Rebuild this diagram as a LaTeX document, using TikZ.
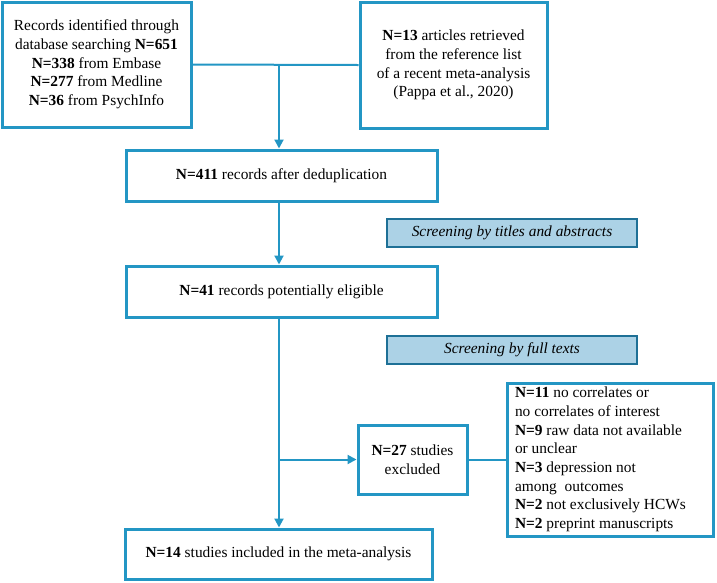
\documentclass[tikz,border=0pt]{standalone}
\usepackage{fontspec}
\setmainfont{Liberation Serif}
\usetikzlibrary{arrows.meta,positioning}
\definecolor{flowblue}{RGB}{35,150,196}
\definecolor{screenfill}{RGB}{172,210,230}
\definecolor{screenline}{RGB}{30,112,150}
\newcommand{\flowfont}{\fontsize{15.4}{18.7}\selectfont}
\tikzset{
	box/.style={draw=flowblue, line width=3pt, fill=white, align=center, inner sep=0pt},
	screen/.style={draw=screenline, line width=2.5pt, fill=screenfill, font=\flowfont\itshape, minimum width=250pt, minimum height=28pt},
	conn/.style={draw=flowblue, line width=2pt},
	arr/.style={conn, -{Triangle[length=9pt,width=9pt]}}
}

\begin{document}
\begin{tikzpicture}[x=1pt, y=-1pt, font=\flowfont]
		%%%%% START %%%%%
		\useasboundingbox (0, 0) rectangle (717, 582);
		
		\node[box, minimum width=189pt, minimum height=125pt] (records) at (96.5, 64.5)
			{Records identified through\\database searching \textbf{N=651}\\\textbf{N=338} from Embase\\\textbf{N=277} from Medline\\\textbf{N=36} from PsychInfo};
		\node[box, minimum width=187pt, minimum height=126pt] (articles) at (453.5, 65)
			{\textbf{N=13} articles retrieved\\from the reference list\\of a recent meta-analysis\\(Pappa et al., 2020)};
		
		\node[box, minimum width=311pt, minimum height=51pt] (dedup) at (281.5, 175.5)
			{\textbf{N=411} records after deduplication};
		\node[screen] (titles) at (512, 233) {Screening by titles and abstracts};
		
		\node[box, minimum width=311pt, minimum height=51pt] (eligible) at (281.5, 291.5)
			{\textbf{N=41} records potentially eligible};
		\node[screen] (fulltext) at (512, 350) {Screening by full texts};
		
		\node[box, minimum width=109pt, minimum height=69pt] (excluded) at (412.5, 459.5)
			{\textbf{N=27} studies\\excluded};
		\node[box, minimum width=206pt, minimum height=153pt, align=flush left, text width=190pt] (reasons) at (610, 459.5)
			{\textbf{N=11} no correlates or\\no correlates of interest\\\textbf{N=9} raw data not available\\or unclear\\\textbf{N=3} depression not\\among\ \ outcomes\\\textbf{N=2} not exclusively HCWs\\\textbf{N=2} preprint manuscripts};
		
		\node[box, minimum width=307pt, minimum height=50pt] (included) at (278.5, 554)
			{\textbf{N=14} studies included in the meta-analysis};
		
		% connectors
		\coordinate (join) at (279, 65);
		\draw[conn] (records.east) -- (articles.west);
		\draw[arr] (join) -- (join |- dedup.north);
		\draw[arr] (join |- dedup.south) -- (join |- eligible.north);
		\draw[arr] (join |- eligible.south) -- (join |- included.north);
		\draw[arr] (join |- excluded.west) -- (excluded.west);
		\draw[conn] (excluded.east) -- (reasons.west);
		
		%%%%% END %%%%%
	\end{tikzpicture}
\end{document}
